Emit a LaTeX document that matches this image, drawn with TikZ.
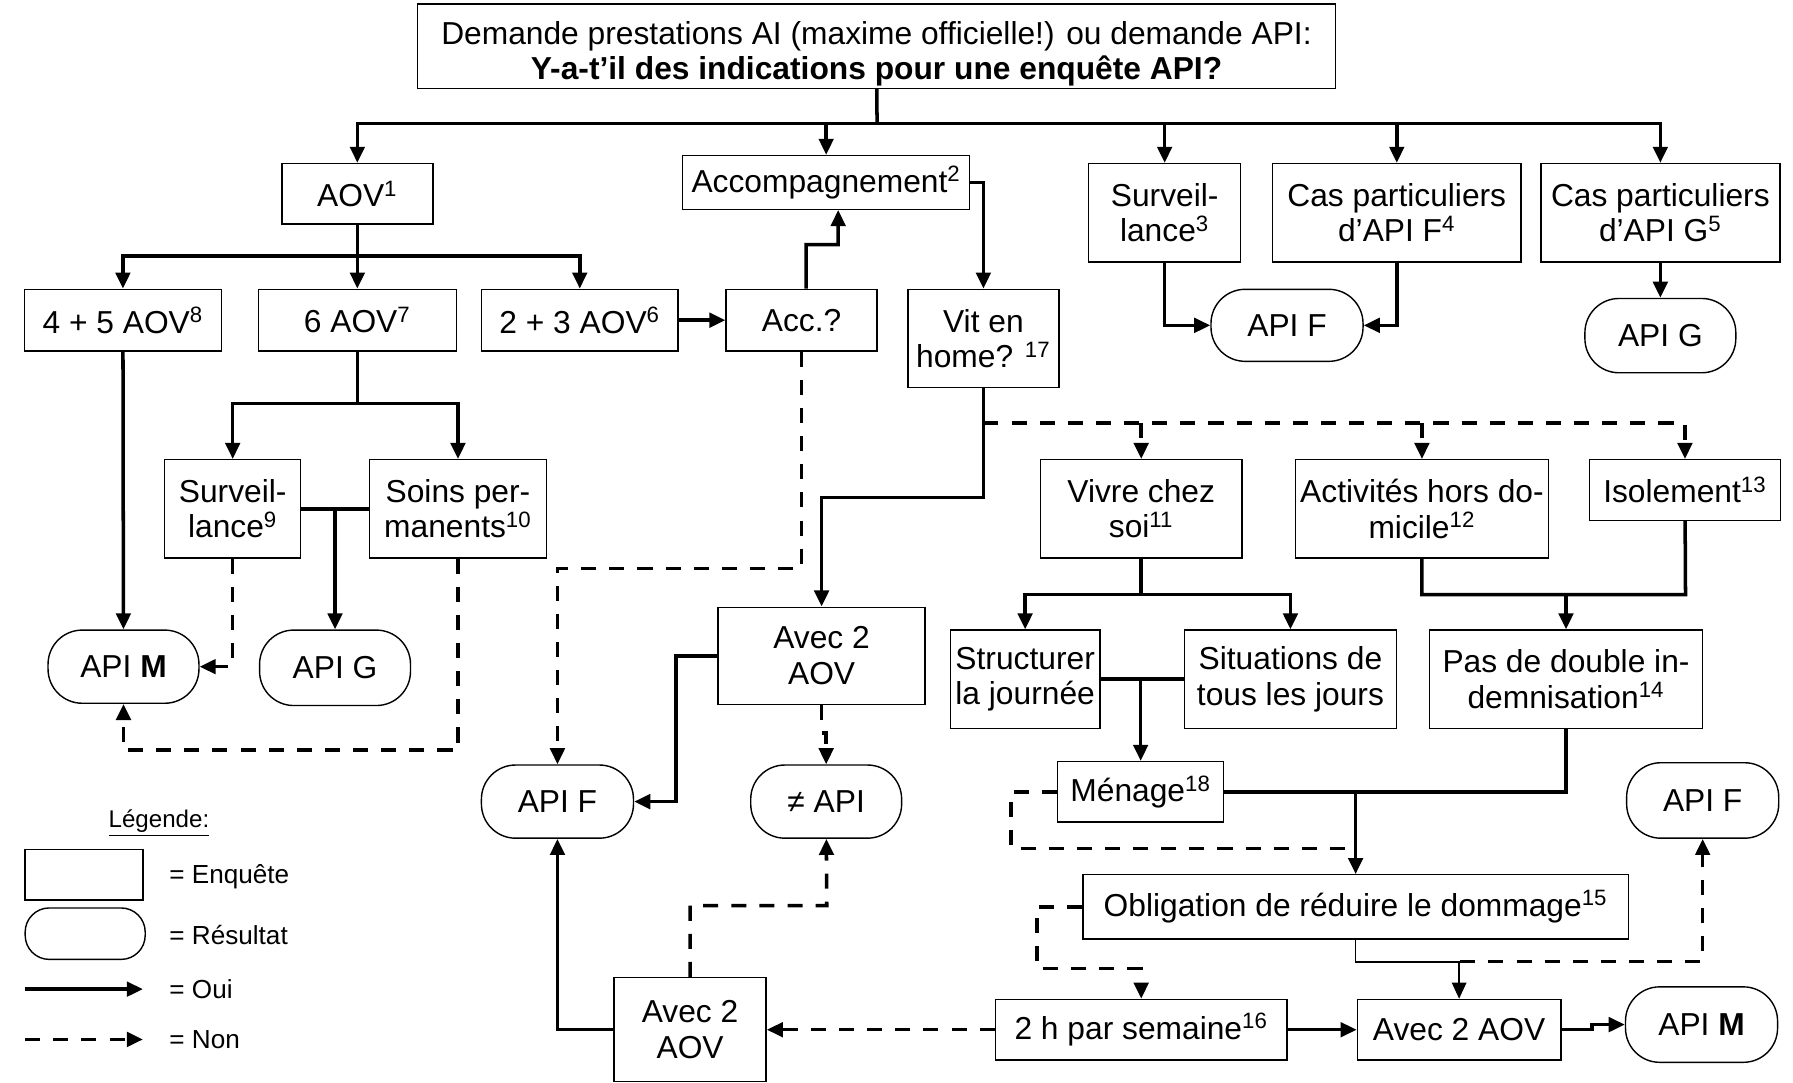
\documentclass[tikz,border=0pt]{standalone}
\usepackage{fontspec}
\setmainfont{Liberation Sans}
\usetikzlibrary{arrows.meta}
\newcommand{\bigtxt}{\fontsize{15.8}{17.7}\selectfont}
\newcommand{\legtxt}{\fontsize{13}{15}\selectfont}

\begin{document}
\begin{tikzpicture}[x=0.02cm, y=-0.02cm,
    enq/.style={draw, line width=0.7pt, align=center, inner sep=1pt, font=\bigtxt},
    res/.style={enq, rounded corners=17pt},
    oui/.style={line width=1.75pt, -{Triangle[length=8pt,width=7.2pt]}},
    non/.style={oui, dash pattern=on 7.5pt off 6.5pt}]
  \useasboundingbox (0,0) rectangle (1568,947);

  % demande
  \node[enq, minimum width=16.06cm, minimum height=1.34cm] (top) at (766.5,40.5)
    {\rule{0pt}{19pt}Demande prestations AI (maxime officielle!) ou demande API:\\ \textbf{Y-a-t’il des indications pour une enquête API?}};

  % premier niveau
  \node[enq, minimum width=2.64cm, minimum height=1.06cm] (aov) at (312.5,169.5) {AOV\textsuperscript{1}};
  \node[enq, minimum width=5.02cm, minimum height=0.94cm] (acc) at (722.5,159.5) {Accompagnement\textsuperscript{2}};
  \node[enq, minimum width=2.66cm, minimum height=1.72cm] (survA) at (1018.5,186) {Surveil-\\lance\textsuperscript{3}};
  \node[enq, minimum width=4.34cm, minimum height=1.72cm] (casF) at (1221.5,186) {Cas particuliers\\d’API F\textsuperscript{4}};
  \node[enq, minimum width=4.18cm, minimum height=1.72cm] (casG) at (1452,186) {Cas particuliers\\d’API G\textsuperscript{5}};
  \node[res, minimum width=2.66cm, minimum height=1.26cm] (apiFa) at (1125.5,284.5) {API F};
  \node[res, minimum width=2.64cm, minimum height=1.30cm] (apiGa) at (1452,293.5) {API G};

  % AOV
  \node[enq, minimum width=3.44cm, minimum height=1.08cm] (a45) at (107.5,280) {4 + 5 AOV\textsuperscript{8}};
  \node[enq, minimum width=3.46cm, minimum height=1.08cm] (a6) at (312.5,280) {6 AOV\textsuperscript{7}};
  \node[enq, minimum width=3.44cm, minimum height=1.08cm] (a23) at (507,280) {2 + 3 AOV\textsuperscript{6}};
  \node[enq, minimum width=2.64cm, minimum height=1.08cm] (accq) at (701,280) {Acc.?};
  \node[enq, minimum width=2.64cm, minimum height=1.72cm] (home) at (860,296) {Vit en\\home? \textsuperscript{17}};
  \node[enq, minimum width=2.38cm, minimum height=1.72cm] (survB) at (203.5,445) {Surveil-\\lance\textsuperscript{9}};
  \node[enq, minimum width=3.10cm, minimum height=1.72cm] (soins) at (400.5,445) {Soins per-\\manents\textsuperscript{10}};
  \node[res, minimum width=2.64cm, minimum height=1.28cm] (apiM1) at (108,583) {API \textbf{M}};
  \node[res, minimum width=2.64cm, minimum height=1.32cm] (apiG2) at (293,584) {API G};

  % vit en home
  \node[enq, minimum width=3.52cm, minimum height=1.72cm] (vivre) at (998,445) {Vivre chez\\soi\textsuperscript{11}};
  \node[enq, minimum width=4.42cm, minimum height=1.72cm] (activ) at (1243.5,445) {Activités hors do-\\micile\textsuperscript{12}};
  \node[enq, minimum width=3.34cm, minimum height=1.06cm] (isol) at (1473.5,428.5) {Isolement\textsuperscript{13}};
  \node[enq, minimum width=3.62cm, minimum height=1.70cm] (avec1) at (718.5,573.5) {Avec 2\\AOV};
  \node[enq, minimum width=2.62cm, minimum height=1.72cm] (struct) at (896.5,594) {Structurer\\la journée};
  \node[enq, minimum width=3.70cm, minimum height=1.72cm] (situ) at (1128.5,594) {Situations de\\tous les jours};
  \node[enq, minimum width=4.78cm, minimum height=1.72cm] (pas) at (1369.5,594) {Pas de double in-\\demnisation\textsuperscript{14}};
  \node[res, minimum width=2.66cm, minimum height=1.28cm] (apiF2) at (487.5,701) {API F};
  \node[res, minimum width=2.64cm, minimum height=1.28cm] (neq) at (722.5,701) {≠ API};
  \node[enq, minimum width=2.90cm, minimum height=1.06cm] (menage) at (997.5,692.5) {Ménage\textsuperscript{18}};
  \node[res, minimum width=2.66cm, minimum height=1.32cm] (apiF3) at (1489,700) {API F};
  \node[enq, minimum width=9.54cm, minimum height=1.12cm] (oblig) at (1185.5,793) {Obligation de réduire le dommage\textsuperscript{15}};
  \node[enq, minimum width=5.10cm, minimum height=1.06cm] (deuxh) at (998,900.5) {2 h par semaine\textsuperscript{16}};
  \node[enq, minimum width=3.56cm, minimum height=1.06cm] (avec3) at (1276,900.5) {Avec 2 AOV};
  \node[res, minimum width=2.66cm, minimum height=1.32cm] (apiM2) at (1488,896) {API \textbf{M}};
  \node[enq, minimum width=2.66cm, minimum height=1.82cm] (avec2) at (603.5,900.5) {Avec 2\\AOV};

  % bus
  \coordinate (bus) at (767,108);
  \draw[oui,-] (top) -- (bus);
  \draw[oui] (bus) -| (aov);
  \draw[oui] (bus) -| (acc);
  \draw[oui] (bus) -| (survA);
  \draw[oui] (bus) -| (casF);
  \draw[oui] (bus) -| (casG);
  \draw[oui] (survA) |- (apiFa);
  \draw[oui] (casF) |- (apiFa);
  \draw[oui] (casG) -- (apiGa);

  % AOV
  \coordinate (b1) at (312.5,224);
  \draw[oui,-] (aov) -- (b1);
  \draw[oui] (b1) -| (a45);
  \draw[oui] (b1) -- (a6);
  \draw[oui] (b1) -| (a23);
  \draw[oui] (a23) -- (accq);
  \draw[oui] ([xshift=0.08cm]accq.north) |- (733,214) -- ([xshift=0.21cm]acc.south);
  \draw[oui] (acc.east) -| (home);
  \coordinate (b6) at (312.5,353);
  \draw[oui,-] (a6) -- (b6);
  \draw[oui] (b6) -| (survB);
  \draw[oui] (b6) -| (soins);
  \draw[oui,-] (survB) -- (soins);
  \draw[oui] (apiG2 |- survB) -- (apiG2);
  \draw[oui] (a45) -- (apiM1);
  \draw[non] (survB) |- (apiM1);
  \draw[non] (soins) |- (108,656) -- (apiM1);
  \draw[non] (accq) |- (487.5,497) -- (apiF2);

  % home
  \draw[oui] (home) |- (719,435) -| (avec1);
  \coordinate (d0) at (860,370);
  \draw[non] (d0) -| (isol);
  \draw[non] (d0 -| vivre) -- (vivre);
  \draw[non] (d0 -| activ) -- (activ);
  \draw[oui] (avec1.west) -| (591,701) -- (apiF2);
  \draw[non] (avec1) -- (718.5,641) -- (722.5,641) -- (neq);

  % vivre chez soi
  \coordinate (b2) at (998,520);
  \draw[oui,-] (vivre) -- (b2);
  \draw[oui] (b2) -| (struct);
  \draw[oui] (b2) -| (situ);
  \draw[oui,-] (activ) |- (1474,520) -- (isol);
  \draw[oui] (pas |- b2) -- (pas);
  \draw[oui,-] (struct) -- (situ);
  \draw[oui] (menage |- struct) -- (menage);
  \draw[oui,-] (pas) |- (menage);
  \draw[oui] (oblig |- menage) -- (oblig);
  \draw[non,-] (menage.west) -| (884,742) -- (1178,742);

  % obligation
  \draw[non] (oblig.west) -| (907,847) -| (deuxh);
  \draw[oui, line width=0.8pt] (oblig) |- (1277,841) -| (avec3);
  \draw[non] (1277,841) -| (apiF3);
  \draw[oui] (deuxh) -- (avec3);
  \draw[oui] (avec3.east) -- (1392,900.5) |- (apiM2);
  \draw[non] (deuxh) -- (avec2);
  \draw[oui] (avec2.west) -| (apiF2);
  \draw[non] (avec2) |- (723,792) -- (neq);

  % legende
  \node[font=\fontsize{12}{14}\selectfont] (leg) at (139,720) {\underline{Légende:}};
  \node[enq, minimum width=2.06cm, minimum height=0.88cm] (lgE) at (73.5,765) {};
  \node[enq, rounded corners=12pt, minimum width=2.10cm, minimum height=0.90cm] (lgR) at (74.5,816.5) {};
  \node[anchor=west, font=\legtxt] (tE) at (142,767) {= Enquête};
  \node[anchor=west, font=\legtxt] (tR) at (142,818) {= Résultat};
  \node[anchor=west, font=\legtxt] (tO) at (142,865) {= Oui};
  \node[anchor=west, font=\legtxt] (tN) at (142,909) {= Non};
  \coordinate (lo1) at (22,865);
  \coordinate (lo2) at (125,865);
  \coordinate (ln1) at (22,909);
  \coordinate (ln2) at (125,909);
  \draw[oui] (lo1) -- (lo2);
  \draw[non] (ln1) -- (ln2);
\end{tikzpicture}
\end{document}
